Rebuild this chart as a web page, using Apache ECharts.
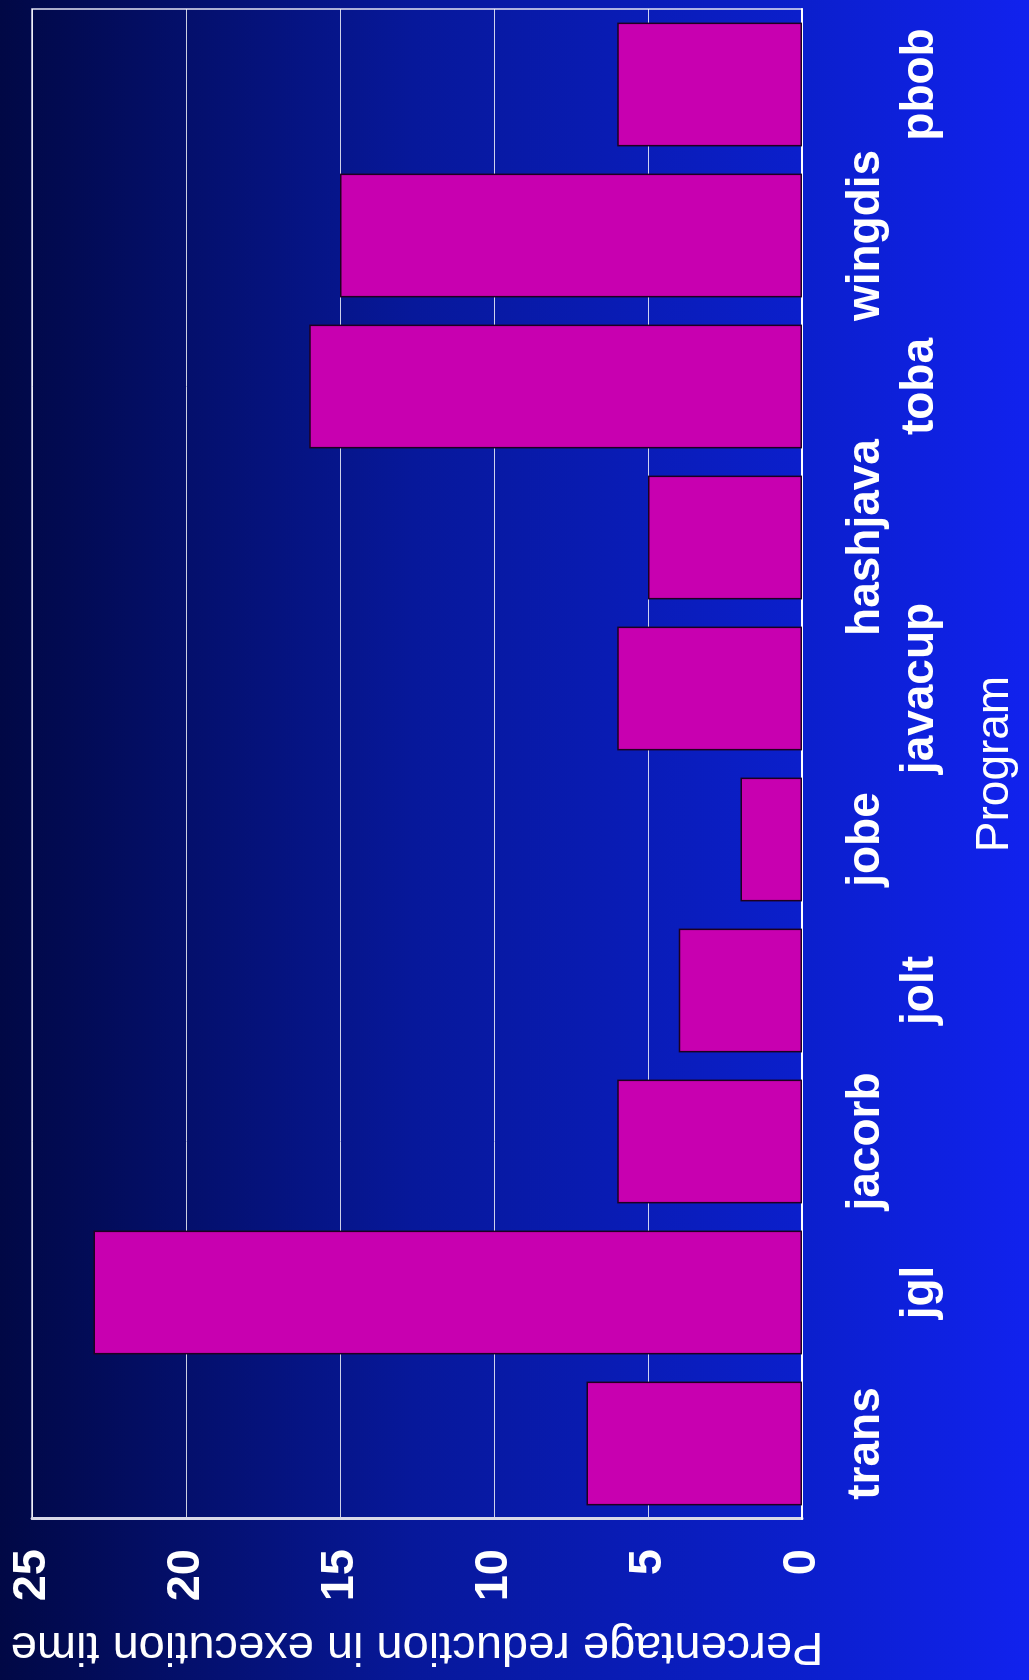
<!DOCTYPE html>
<html>
<head>
<meta charset="utf-8">
<script src="https://cdn.jsdelivr.net/npm/echarts@6/dist/echarts.min.js"></script>
<style>
  html, body { margin: 0; padding: 0; width: 1029px; height: 1680px; overflow: hidden; background: #06138a; }
  /* chart is drawn upright, then turned a quarter turn counter-clockwise */
  #chart {
    position: absolute; left: 0; top: 0;
    width: 1680px; height: 1029px;
    transform-origin: 0 0;
    transform: translateY(1680px) rotate(-90deg);
  }
</style>
</head>
<body>
<div id="chart"></div>
<script>
var programs = ['trans', 'jgl', 'jacorb', 'jolt', 'jobe', 'javacup', 'hashjava', 'toba', 'wingdis', 'pbob']
var reduction = [7, 23, 6, 4, 2, 6, 5, 16, 15, 6]
var valueTicks = [0, 25, 5] // min, max, step

var font = '"Liberation Sans", Arial, sans-serif'

var chart = echarts.init(document.getElementById('chart'))
var option = {
  animation: false,
  backgroundColor: new echarts.graphic.LinearGradient(0, 0, 0, 1, [
    { offset: 0, color: '#010845' },
    { offset: 0.4, color: '#07189a' },
    { offset: 0.78, color: '#0b1fcc' },
    { offset: 1, color: '#1122ee' }
  ]),
  grid: {
    left: 161, right: 9, top: 32, bottom: 227,
    show: true,
    borderColor: '#e4e4f4',
    borderWidth: 1.5
  },
  xAxis: {
    type: 'category',
    data: programs,
    name: 'Program',
    nameLocation: 'middle',
    nameGap: 170,
    nameTextStyle: { color: '#fff', fontSize: 46, fontFamily: font },
    axisLine: { lineStyle: { color: '#fff', width: 2 } },
    axisTick: { show: false },
    axisLabel: {
      interval: 0,
      margin: 37,
      color: '#fff',
      fontSize: 46,
      fontWeight: 'bold',
      fontFamily: font,
      lineHeight: 54,
      // every other label sits one row lower
      formatter: function (v, i) { return i % 2 ? '\n' + v : v }
    }
  },
  yAxis: {
    type: 'value',
    min: valueTicks[0],
    max: valueTicks[1],
    interval: valueTicks[2],
    name: 'Percentage reduction in execution time',
    nameLocation: 'middle',
    nameGap: 103,
    nameTextStyle: { color: '#fff', fontSize: 47, fontFamily: font },
    axisLine: { show: true, lineStyle: { color: '#d8d8e8', width: 3 } },
    axisTick: { show: false },
    splitLine: { lineStyle: { color: 'rgba(255,255,255,0.8)', width: 1 } },
    axisLabel: {
      margin: 30,
      color: '#fff',
      fontSize: 47,
      fontWeight: 'bold',
      fontFamily: font
    }
  },
  series: [
    {
      type: 'bar',
      data: reduction,
      barCategoryGap: '18%',
      itemStyle: {
        color: '#c800b0',
        borderColor: '#1e0020',
        borderWidth: 1.5
      }
    }
  ]
}
chart.setOption(option)
</script>
</body>
</html>
